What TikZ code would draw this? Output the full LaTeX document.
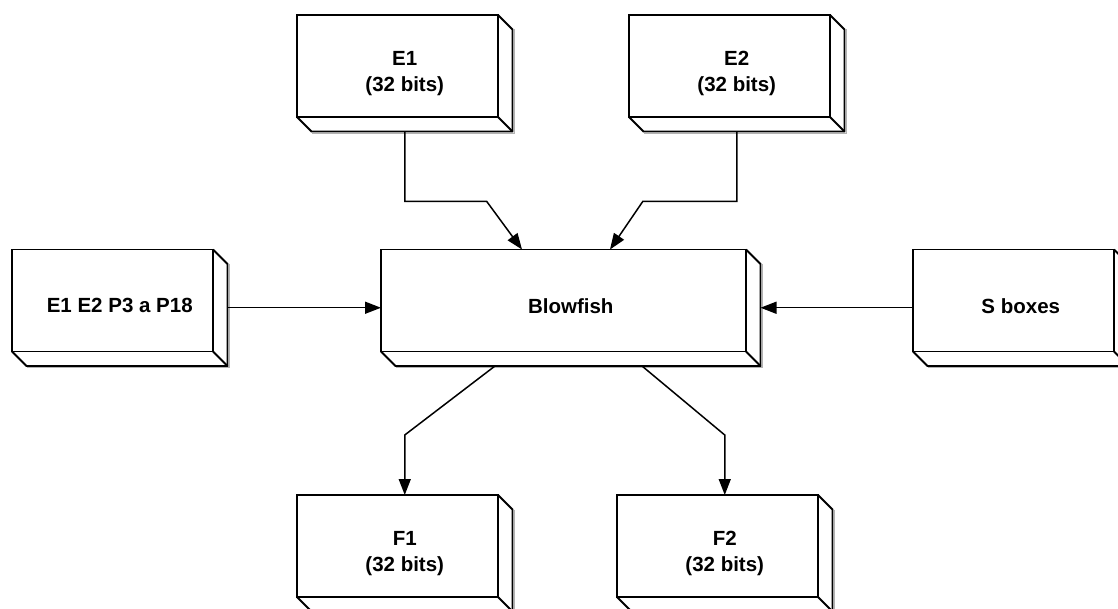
\documentclass[tikz,border=0pt]{standalone}
\usepackage{fontspec}
\setmainfont{Liberation Sans}
\usetikzlibrary{calc,arrows.meta}
\begin{document}
\begin{tikzpicture}[x=1pt,y=1pt,
  box3d/.style={rectangle, minimum width=215.5pt, minimum height=116.5pt, inner sep=0pt, outer sep=0pt, align=center, text depth=4pt, font=\fontsize{20.5}{26.5}\selectfont\bfseries},
  edge/.style={line width=1.8pt, black, line join=miter},
  conn/.style={line width=1.5pt, -{Triangle[length=16pt,width=12pt]}},
  shadowline/.style={line width=1.4pt, gray!60}
]
\clip (0,0) rectangle (1118,608);
\fill[white] (0,0) rectangle (1118,608);
\node[box3d] (E1) at (404.75,534.75) {E1\\(32 bits)};
\node[box3d] (E2) at (736.75,534.75) {E2\\(32 bits)};
\node[box3d] (L) at (119.75,300.25) {E1 E2 P3 a P18};
\node[box3d, minimum width=379.5pt] (B) at (570.75,300.25) {Blowfish};
\node[box3d] (S) at (1020.75,300.25) {S boxes};
\node[box3d] (F1) at (404.75,54.75) {F1\\(32 bits)};
\node[box3d] (F2) at (724.75,54.75) {F2\\(32 bits)};
\foreach \n in {E1,E2,L,B,S,F1,F2}{
  \draw[shadowline] ($(\n.north east)+(1.8,-14.5)$) -- ($(\n.south east)+(1.8,-1.8)$) -- ($(\n.south west)+(14.5,-1.8)$);
  \draw[edge] (\n.north west) rectangle ($(\n.south east)+(-14.5,14.5)$);
  \draw[edge] ($(\n.north east)+(-14.5,0)$) -- ($(\n.north east)+(0,-14.5)$) -- (\n.south east) -- ($(\n.south west)+(14.5,0)$) -- ($(\n.south west)+(0,14.5)$);
  \draw[edge] ($(\n.south east)+(-14.5,14.5)$) -- (\n.south east);
}
\draw[conn] (E1.south) -- ++(0,-70) -- ++(82,0) -- ($(B.north west)+(141,0)$);
\draw[conn] (E2.south) -- ++(0,-70) -- ++(-94,0) -- ($(B.north west)+(229,0)$);
\draw[conn] (L.east) -- (B.west);
\draw[conn] (S.west) -- (B.east);
\draw[conn] ($(B.south west)+(114,0)$) -- ($(F1.north)+(0,60)$) -- (F1.north);
\draw[conn] ($(B.south west)+(261,0)$) -- ($(F2.north)+(0,60)$) -- (F2.north);
\end{tikzpicture}
\end{document}
